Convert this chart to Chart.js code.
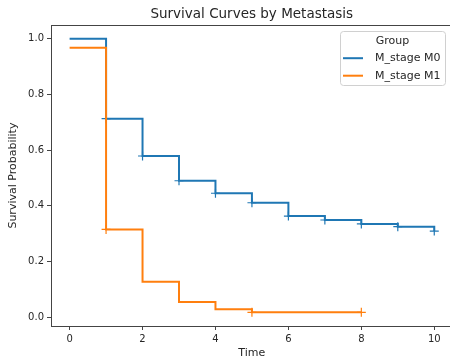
<!DOCTYPE html>
<html>
<head>
<meta charset="utf-8">
<script src="https://cdn.jsdelivr.net/npm/chart.js@4/dist/chart.umd.min.js"></script>
<style>
html,body{margin:0;padding:0;overflow:hidden;background:#fff;width:450px;height:362px;}
canvas{display:block;}
</style>
</head>
<body>
<canvas id="c" width="460" height="362"></canvas>
<script>
// ---- data ----
const groups = ["M_stage M0", "M_stage M1"];
const m0Times = [0, 1, 2, 3, 4, 5, 6, 7, 8, 9, 10];
const m0Surv  = [1.0, 0.713, 0.579, 0.490, 0.445, 0.411, 0.363, 0.349, 0.335, 0.325, 0.309];
const m0CensorTimes = [1, 2, 3, 4, 5, 6, 7, 8, 9, 10];
const m0CensorSurv  = [0.713, 0.579, 0.490, 0.445, 0.411, 0.363, 0.349, 0.335, 0.325, 0.309];
const m1Times = [0, 1, 2, 3, 4, 5, 8];
const m1Surv  = [0.968, 0.315, 0.127, 0.054, 0.028, 0.017, 0.017];
const m1CensorTimes = [1, 5, 8];
const m1CensorSurv  = [0.315, 0.017, 0.017];
const xTicks = [0, 2, 4, 6, 8, 10];
const yTicks = [0.0, 0.2, 0.4, 0.6, 0.8, 1.0];

const blue = '#1f77b4', orange = '#ff7f0e';
const FONT = "'DejaVu Sans', sans-serif";
const pts = (xs, ys) => xs.map((x, i) => ({x: x, y: ys[i]}));

const spines = {
  id: 'spines',
  afterDatasetsDraw(chart) {
    const {ctx, chartArea: a} = chart;
    ctx.save();
    ctx.strokeStyle = '#444';
    ctx.lineWidth = 1;
    ctx.strokeRect(Math.round(a.left) + 0.5, Math.round(a.top) + 0.5,
                   Math.round(a.right - a.left), Math.round(a.bottom - a.top));
    ctx.restore();
  }
};

const legendBox = {
  id: 'legendBox',
  afterDraw(chart) {
    const {ctx, chartArea: a} = chart;
    const w = 105, h = 54;
    const x0 = a.right - 7.5 - w, y0 = a.top + 6;
    ctx.save();
    ctx.beginPath();
    ctx.roundRect(Math.round(x0) + 0.5, Math.round(y0) + 0.5, w, h, 3);
    ctx.fillStyle = 'rgba(255,255,255,0.8)';
    ctx.fill();
    ctx.strokeStyle = '#d0d0d0';
    ctx.lineWidth = 1;
    ctx.stroke();
    ctx.font = '11px ' + FONT;
    ctx.fillStyle = '#262626';
    ctx.textBaseline = 'middle';
    ctx.textAlign = 'center';
    ctx.fillText('Group', x0 + w / 2, y0 + 10);
    ctx.textAlign = 'left';
    const cols = [blue, orange];
    groups.forEach((g, i) => {
      const yy = y0 + 27 + i * 17.5;
      ctx.strokeStyle = cols[i];
      ctx.lineWidth = 2;
      ctx.beginPath();
      ctx.moveTo(x0 + 3, yy);
      ctx.lineTo(x0 + 23, yy);
      ctx.stroke();
      ctx.fillText(g, x0 + 35, yy);
    });
    ctx.restore();
  }
};

new Chart(document.getElementById('c'), {
  type: 'line',
  data: {
    datasets: [
      {label: groups[0], data: pts(m0Times, m0Surv), borderColor: blue, backgroundColor: blue,
       borderWidth: 2, stepped: true, pointRadius: 0, fill: false, order: 2},
      {label: groups[1], data: pts(m1Times, m1Surv), borderColor: orange, backgroundColor: orange,
       borderWidth: 2, stepped: true, pointRadius: 0, fill: false, order: 1},
      {label: 'c0', data: pts(m0CensorTimes, m0CensorSurv), showLine: false, pointStyle: 'cross',
       pointRadius: 4.5, pointBorderWidth: 1.2, borderColor: blue, backgroundColor: blue, order: 2},
      {label: 'c1', data: pts(m1CensorTimes, m1CensorSurv), showLine: false, pointStyle: 'cross',
       pointRadius: 4.5, pointBorderWidth: 1.2, borderColor: orange, backgroundColor: orange, order: 1}
    ]
  },
  options: {
    responsive: false,
    animation: false,
    layout: {padding: {left: 0, right: 7.5, top: 0, bottom: 0}},
    plugins: {
      legend: {display: false},
      tooltip: {enabled: false},
      title: {
        display: true, fullSize: false,
        text: 'Survival Curves by Metastasis',
        color: '#262626',
        font: {family: FONT, size: 13.5, weight: 'normal'},
        padding: {top: 6, bottom: 3}
      }
    },
    scales: {
      x: {
        type: 'linear', min: -0.51, max: 10.5,
        afterBuildTicks: s => { s.ticks = xTicks.map(v => ({value: v})); },
        afterFit: s => { s.height = 36; },
        grid: {display: true, drawOnChartArea: false, drawTicks: true, tickLength: 4, color: '#444'},
        border: {display: false},
        ticks: {color: '#262626', font: {family: FONT, size: 10}, padding: 3, maxRotation: 0,
                callback: v => String(v)},
        title: {display: true, text: 'Time', color: '#262626',
                font: {family: FONT, size: 11}, padding: {top: 0, bottom: 2}}
      },
      y: {
        type: 'linear', min: -0.032, max: 1.049,
        afterBuildTicks: s => { s.ticks = yTicks.map(v => ({value: v})); },
        afterFit: s => { s.width = 51; },
        grid: {display: true, drawOnChartArea: false, drawTicks: true, tickLength: 4, color: '#444'},
        border: {display: false},
        ticks: {color: '#262626', font: {family: FONT, size: 10}, padding: 3,
                callback: v => Number(v).toFixed(1)},
        title: {display: true, text: 'Survival Probability', color: '#262626',
                font: {family: FONT, size: 11}, padding: {top: 7, bottom: 0}}
      }
    }
  },
  plugins: [spines, legendBox]
});
</script>
</body>
</html>
